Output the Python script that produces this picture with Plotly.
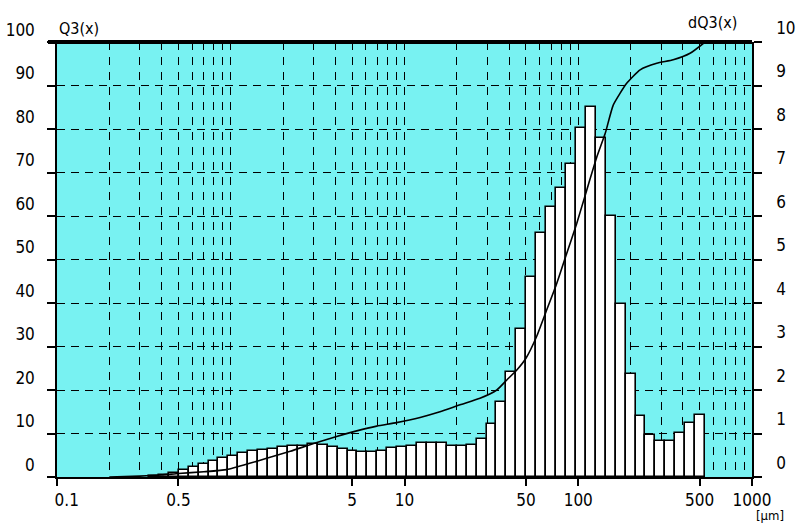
import numpy as np
import plotly.graph_objects as go

# ---- data ----
# class edges of the histogram (µm)
class_edges = [0.338, 0.386, 0.440, 0.502, 0.573, 0.653, 0.745, 0.850, 0.969, 1.105,
               1.261, 1.438, 1.640, 1.871, 2.134, 2.434, 2.777, 3.167, 3.612, 4.121,
               4.700, 5.362, 6.115, 6.976, 7.957, 9.078, 10.35, 11.81, 13.47, 15.37,
               17.52, 19.99, 22.80, 26.01, 29.67, 33.84, 38.60, 44.03, 50.22, 57.28,
               65.33, 74.53, 85.00, 96.96, 110.6, 126.2, 143.9, 164.1, 187.2, 213.6,
               243.6, 277.8, 316.9, 361.5, 412.2, 470.3, 536.3]
# dQ3 per class (right axis)
dq3 = [0.03, 0.05, 0.10, 0.16, 0.23, 0.30, 0.37, 0.44, 0.48, 0.55,
       0.59, 0.62, 0.64, 0.68, 0.71, 0.72, 0.75, 0.74, 0.70, 0.64,
       0.60, 0.58, 0.58, 0.60, 0.66, 0.69, 0.72, 0.79, 0.79, 0.79,
       0.72, 0.72, 0.74, 0.87, 1.22, 1.72, 2.41, 3.40, 4.59, 5.62,
       6.20, 6.64, 7.20, 8.02, 8.50, 7.80, 6.00, 3.98, 2.37, 1.40,
       0.97, 0.83, 0.83, 1.02, 1.25, 1.43]
# cumulative curve Q3(x) (left axis)
q3_size = [0.2, 0.3, 0.4, 0.5, 0.7, 0.95, 1.3, 1.61, 2.2, 3.0, 4.07, 5.31, 6.92, 9.0,
           12.3, 16.0, 20.9, 27.2, 34.0, 38.8, 44.3, 50.0, 57.6, 65.8, 75.2, 85.8,
           98.0, 112, 128, 143, 159, 190, 227, 283, 352, 440, 537]
q3_val = [0.0, 0.2, 0.45, 0.8, 1.2, 1.7, 3.2, 4.3, 5.9, 7.7, 9.3, 10.6, 11.7, 12.5,
          13.7, 15.0, 16.6, 18.1, 20.0, 22.3, 24.6, 27.3, 32.3, 38.4, 44.5, 51.4,
          58.3, 66.0, 73.6, 79.0, 85.5, 90.5, 93.6, 95.1, 95.9, 97.4, 100.0]

x_tick_vals = [0.1, 0.5, 5, 10, 50, 100, 500, 1000]
x_tick_text = ["\u00a0\u00a0\u00a0\u00a00.1", "0.5", "5", "10", "50", "100", "500", "1000"]
grid_vals = [m * 10.0 ** e for e in (-1, 0, 1, 2) for m in range(1, 10)]
left_ticks = list(range(0, 101, 10))
right_ticks = list(range(0, 11, 1))

FONT = "DejaVu Sans Condensed, Liberation Sans Narrow, sans-serif"
BG = "#78F2F2"

edges = np.array(class_edges)
lo, hi = edges[:-1], edges[1:]

fig = go.Figure()
fig.add_trace(go.Bar(
    x=(lo + hi) / 2, y=dq3, width=hi - lo,
    marker=dict(color="white", line=dict(color="black", width=1.6)),
    xaxis="x", yaxis="y", showlegend=False, hoverinfo="skip"))
fig.add_trace(go.Scatter(
    x=q3_size, y=q3_val, mode="lines",
    line=dict(color="black", width=1.6, shape="spline", smoothing=0.5),
    xaxis="x", yaxis="y2", showlegend=False, hoverinfo="skip"))

fig.update_layout(
    width=798, height=526,
    margin=dict(l=57, r=46, t=42, b=49, autoexpand=False),
    paper_bgcolor="white", plot_bgcolor=BG,
    font=dict(family=FONT, size=17, color="black"),
    bargap=0,
    xaxis=dict(
        type="log", range=[-1, 3], automargin=False,
        tickmode="array", tickvals=x_tick_vals, ticktext=x_tick_text,
        ticks="outside", ticklen=7, tickwidth=1.5, tickcolor="black",
        showline=True, linecolor="black", linewidth=2,
        showgrid=True, gridcolor="black", gridwidth=1.3, griddash="8px,7px",
        minor=dict(tickmode="array", tickvals=grid_vals, showgrid=True,
                   gridcolor="black", gridwidth=1.3, griddash="8px,7px", ticks=""),
        zeroline=False, tickfont=dict(size=17),
    ),
    yaxis=dict(
        side="right", range=[0, 10], automargin=False,
        tickmode="array", tickvals=right_ticks,
        ticks="outside", ticklen=8, tickwidth=1.5, tickcolor="black",
        showline=True, linecolor="black", linewidth=1.5,
        showgrid=True, gridcolor="black", gridwidth=1, griddash="8px,6px",
        zeroline=False, ticklabelshift=-14, ticklabelstandoff=11,
        tickfont=dict(size=17),
    ),
    yaxis2=dict(
        overlaying="y", side="left", range=[0, 100], automargin=False,
        tickmode="array", tickvals=left_ticks,
        ticks="outside", ticklen=8, tickwidth=1.5, tickcolor="black",
        showline=True, linecolor="black", linewidth=1.5,
        showgrid=False, zeroline=False, ticklabelshift=-12, ticklabelstandoff=9,
        tickfont=dict(size=17),
    ),
    shapes=[dict(type="line", xref="paper", yref="paper",
                 x0=-9 / 695, x1=1, y0=1, y1=1,
                 line=dict(color="black", width=4))],
    annotations=[
        dict(text="Q3(x)", xref="paper", yref="paper", x=0, y=1 + 14 / 435,
             xanchor="left", yanchor="middle", showarrow=False, font=dict(size=16)),
        dict(text="dQ3(x)", xref="paper", yref="paper", x=(712 - 57) / 695, y=1 + 20 / 435,
             xanchor="center", yanchor="middle", showarrow=False, font=dict(size=16)),
        dict(text="[µm]", xref="paper", yref="paper", x=(770 - 57) / 695, y=-48 / 435,
             xanchor="center", yanchor="bottom", showarrow=False, font=dict(size=13)),
    ],
)

fig.write_html("out.html")
